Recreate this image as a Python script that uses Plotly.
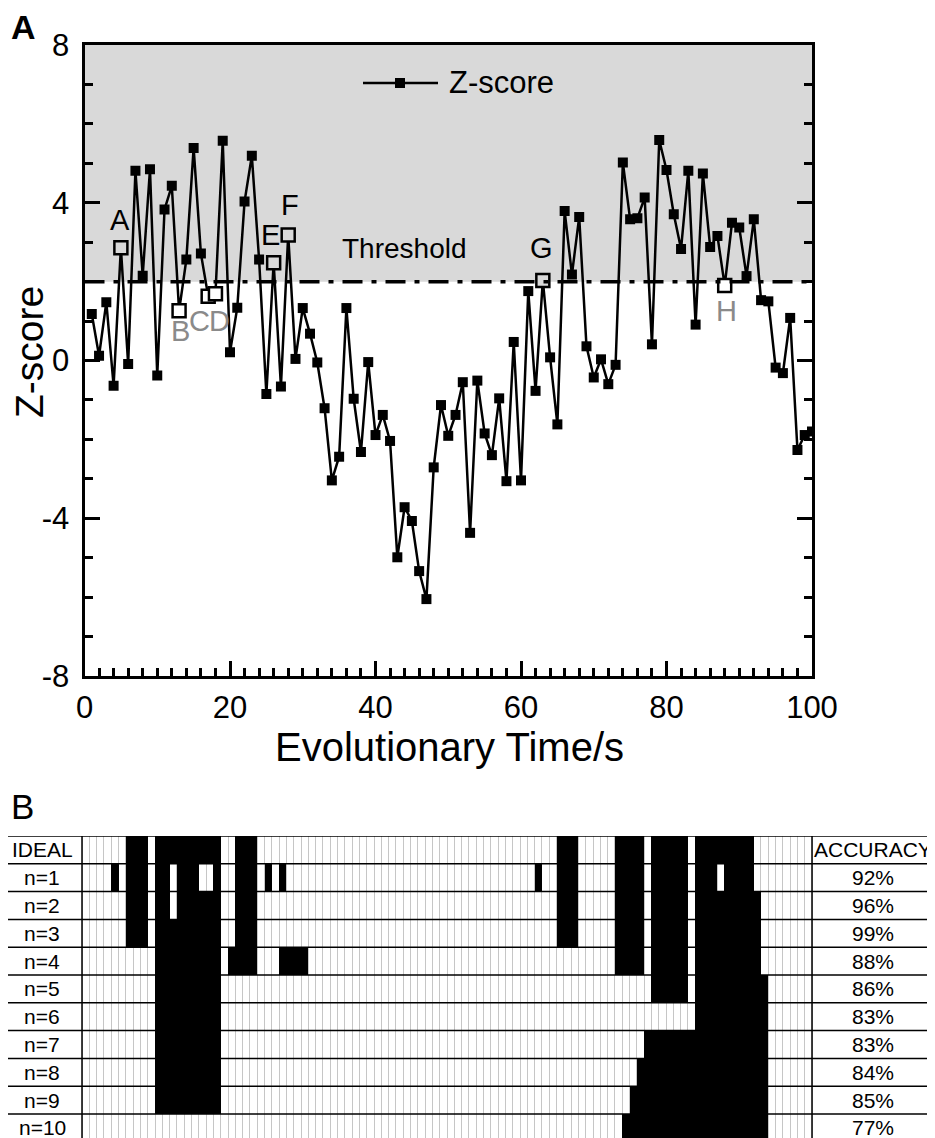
import plotly.graph_objects as go

# reference canvas and page offset (browser body margin)
W, H = 935, 1138
OFF = 8
FW, FH = W - OFF, H - OFF

# ---------------- data: panel A ----------------
TIME = list(range(1, 101))
ZSCORE = [
    1.18, 0.12, 1.48, -0.64, 2.86, -0.09, 4.81, 2.15, 4.85, -0.38,
    3.83, 4.43, 1.26, 2.56, 5.39, 2.71, 1.63, 1.69, 5.57, 0.21,
    1.34, 4.03, 5.19, 2.56, -0.85, 2.48, -0.66, 3.18, 0.04, 1.33,
    0.68, -0.05, -1.21, -3.04, -2.44, 1.33, -0.97, -2.32, -0.04, -1.89,
    -1.38, -2.04, -4.99, -3.72, -4.07, -5.34, -6.05, -2.71, -1.13, -1.91,
    -1.38, -0.55, -4.37, -0.51, -1.85, -2.40, -0.96, -3.06, 0.47, -3.04,
    1.76, -0.77, 2.03, 0.08, -1.62, 3.79, 2.18, 3.64, 0.36, -0.43,
    0.03, -0.60, -0.11, 5.02, 3.58, 3.61, 4.13, 0.41, 5.59, 4.83,
    3.71, 2.83, 4.81, 0.91, 4.74, 2.88, 3.16, 1.90, 3.49, 3.37,
    2.14, 3.58, 1.53, 1.50, -0.18, -0.32, 1.08, -2.27, -1.89, -1.80,
]
THRESHOLD = 2.0
X_RANGE = [0, 100]
Y_RANGE = [-8, 8]
X_TICKS = [0, 20, 40, 60, 80, 100]
Y_TICKS = [-8, -4, 0, 4, 8]
Y_TICKTEXT = ["-8", "-4", "0", "4", "8"]
HIGHLIGHT_T = [5, 13, 17, 18, 26, 28, 63, 88]
HIGHLIGHT_LABELS = ["A", "B", "C", "D", "E", "F", "G", "H"]

# ---------------- data: panel B ----------------
ROW_LABELS = ["IDEAL", "n=1", "n=2", "n=3", "n=4", "n=5",
              "n=6", "n=7", "n=8", "n=9", "n=10"]
ACCURACY = ["ACCURACY", "92%", "96%", "99%", "88%", "86%",
            "83%", "83%", "84%", "85%", "77%"]
IDEAL_RUNS = [(7, 9), (11, 19), (22, 24), (66, 68), (74, 77), (79, 83), (85, 92)]
N1_RUNS = [(5, 5), (7, 9), (11, 12), (14, 16), (19, 19), (22, 24), (26, 26),
           (28, 28), (63, 63), (66, 68), (74, 77), (79, 83), (85, 87), (89, 92)]
N2_RUNS = [(7, 9), (11, 12), (14, 19), (22, 24), (66, 68), (74, 77), (79, 83), (85, 93)]
N3_RUNS = [(7, 9), (11, 19), (22, 24), (66, 68), (74, 77), (79, 83), (85, 93)]
N4_RUNS = [(11, 19), (21, 24), (28, 31), (74, 77), (79, 83), (85, 93)]
N5_RUNS = [(11, 19), (79, 83), (85, 94)]
N6_RUNS = [(11, 19), (85, 94)]
N7_RUNS = [(11, 19), (78, 94)]
N8_RUNS = [(11, 19), (77, 94)]
N9_RUNS = [(11, 19), (76, 94)]
N10_RUNS = [(75, 94)]
ALL_RUNS = [IDEAL_RUNS, N1_RUNS, N2_RUNS, N3_RUNS, N4_RUNS, N5_RUNS,
            N6_RUNS, N7_RUNS, N8_RUNS, N9_RUNS, N10_RUNS]

# ---------------- style ----------------
FONT = "Arial, Liberation Sans, sans-serif"
BG_GRAY = "#d9d9d9"
LABEL_GRAY = "#8a8a8a"


def px_x(p):
    return (p - OFF) / FW


def px_y(p):
    return 1 - (p - OFF) / FH


fig = go.Figure()

# ---- panel A traces ----
fig.add_trace(go.Scatter(
    x=TIME, y=ZSCORE, mode="lines+markers", name="Z-score",
    line=dict(color="black", width=2.5),
    marker=dict(symbol="square", size=10, color="black"),
    xaxis="x", yaxis="y", showlegend=False, hoverinfo="skip",
))

hl_y = [ZSCORE[TIME.index(t)] for t in HIGHLIGHT_T]
hl_fill = [BG_GRAY if v >= THRESHOLD else "white" for v in hl_y]
fig.add_trace(go.Scatter(
    x=HIGHLIGHT_T, y=hl_y, mode="markers",
    marker=dict(symbol="square", size=13, color=hl_fill,
                line=dict(color="black", width=2.5)),
    xaxis="x", yaxis="y", showlegend=False, hoverinfo="skip",
))

# label offsets (pixels) relative to the highlighted point
LABEL_SHIFT = [(-1, 28), (1, -20), (-9, -25), (4, -27),
               (-3, 28), (2, 30), (-1, 32), (2, -25)]
annotations = []
for t, v, lab, (dx, dy) in zip(HIGHLIGHT_T, hl_y, HIGHLIGHT_LABELS, LABEL_SHIFT):
    annotations.append(dict(
        x=t, y=v, xref="x", yref="y", text=lab, showarrow=False,
        xanchor="center", yanchor="middle", xshift=dx, yshift=dy,
        font=dict(family=FONT, size=29,
                  color="black" if v >= THRESHOLD else LABEL_GRAY),
    ))

annotations.append(dict(
    x=35.1, y=2.85, xref="x", yref="y", text="Threshold", showarrow=False,
    xanchor="left", yanchor="middle",
    font=dict(family=FONT, size=28, color="black"),
))

# ---- panel B heatmap ----
matrix = []
for runs in ALL_RUNS:
    matrix.append([1 if any(a <= t <= b for a, b in runs) else 0 for t in TIME])

fig.add_trace(go.Heatmap(
    x=TIME, y=list(range(len(ROW_LABELS))), z=matrix,
    zmin=0, zmax=1,
    colorscale=[[0, "rgba(255,255,255,0)"], [1, "black"]],
    showscale=False, hoverinfo="skip",
    xaxis="x2", yaxis="y2",
))

# geometry of the table (units of time steps / rows)
CELL_PX = 7.3
ROW_PX = 27.8
GRID_LEFT_PX = 82
TABLE_TOP_PX = 836
x2_left = 0.5 - (GRID_LEFT_PX - OFF) / CELL_PX
x2_right = 0.5 + (W - GRID_LEFT_PX) / CELL_PX
LABEL_LEFT = 0.5 - (GRID_LEFT_PX - 2.7) / CELL_PX
ACC_RIGHT = 0.5 + (933 - GRID_LEFT_PX) / CELL_PX
GRID_RIGHT = len(TIME) + 0.5
y2_bottom = -0.5 + (H - TABLE_TOP_PX) / ROW_PX

shapes = []
# grey region above threshold
shapes.append(dict(type="rect", xref="x domain", yref="y", x0=0, x1=1,
                   y0=THRESHOLD, y1=Y_RANGE[1], fillcolor=BG_GRAY,
                   line=dict(width=0), layer="below"))
# threshold line
shapes.append(dict(type="line", xref="x domain", yref="y", x0=0, x1=1,
                   y0=THRESHOLD, y1=THRESHOLD,
                   line=dict(color="black", width=3.5, dash="20px,9px,5px,9px")))

# table horizontal lines
for r in range(len(ROW_LABELS) + 1):
    shapes.append(dict(type="line", xref="x2", yref="y2",
                       x0=LABEL_LEFT, x1=ACC_RIGHT, y0=r - 0.5, y1=r - 0.5,
                       line=dict(color="black", width=1.5)))
# table vertical black lines
for xv in [LABEL_LEFT, 0.5, GRID_RIGHT, ACC_RIGHT]:
    shapes.append(dict(type="line", xref="x2", yref="y2",
                       x0=xv, x1=xv, y0=-0.5, y1=len(ROW_LABELS) - 0.5,
                       line=dict(color="black", width=1.5)))

# table labels
for r, (lab, acc) in enumerate(zip(ROW_LABELS, ACCURACY)):
    annotations.append(dict(x=(LABEL_LEFT + 0.5) / 2, y=r, xref="x2", yref="y2",
                            text=lab, showarrow=False,
                            xanchor="center", yanchor="middle",
                            font=dict(family=FONT, size=21, color="black")))
    annotations.append(dict(x=(GRID_RIGHT + ACC_RIGHT) / 2, y=r, xref="x2", yref="y2",
                            text=acc, showarrow=False,
                            xanchor="center", yanchor="middle",
                            font=dict(family=FONT, size=21, color="black")))

# legend (drawn)
LEG_Y = px_y(83)
shapes.append(dict(type="line", xref="paper", yref="paper",
                   x0=px_x(363), x1=px_x(438), y0=LEG_Y, y1=LEG_Y,
                   line=dict(color="black", width=2.5)))
shapes.append(dict(type="rect", xref="paper", yref="paper",
                   x0=px_x(395), x1=px_x(405), y0=px_y(88), y1=px_y(78),
                   fillcolor="black", line=dict(width=0)))
annotations.append(dict(x=px_x(447), y=LEG_Y, xref="paper", yref="paper",
                        text="Z-score", showarrow=False,
                        xanchor="left", yanchor="middle",
                        font=dict(family=FONT, size=31, color="black")))

# panel letters and axis titles
annotations.append(dict(x=px_x(24), y=px_y(27), xref="paper", yref="paper",
                        text="<b>A</b>", showarrow=False, borderpad=0,
                        xanchor="center", yanchor="middle",
                        font=dict(family=FONT, size=34, color="black")))
annotations.append(dict(x=px_x(22), y=px_y(806), xref="paper", yref="paper",
                        text="B", showarrow=False,
                        xanchor="center", yanchor="middle",
                        font=dict(family=FONT, size=35, color="black")))
annotations.append(dict(x=px_x(449), y=px_y(747), xref="paper", yref="paper",
                        text="Evolutionary Time/s", showarrow=False,
                        xanchor="center", yanchor="middle",
                        font=dict(family=FONT, size=40, color="black")))
annotations.append(dict(x=px_x(30), y=px_y(352), xref="paper", yref="paper",
                        text="Z-score", showarrow=False, textangle=-90,
                        borderpad=0, xanchor="center", yanchor="middle",
                        font=dict(family=FONT, size=39, color="black")))

axis_common = dict(showline=True, linewidth=3, linecolor="black",
                   ticks="inside", ticklen=15, tickwidth=2.5, tickcolor="black",
                   showgrid=False, zeroline=False, automargin=False,
                   tickfont=dict(family=FONT, size=31, color="black"))

fig.update_layout(
    width=FW, height=FH,
    margin=dict(l=0, r=0, t=0, b=0),
    paper_bgcolor="white", plot_bgcolor="white",
    showlegend=False,
    xaxis=dict(domain=[px_x(84.5), px_x(812)], range=X_RANGE, anchor="y",
               tickvals=X_TICKS, mirror=True, ticklabelstandoff=2,
               minor=dict(dtick=2, tick0=0, ticklen=8, tickwidth=2.5,
                          tickcolor="black", ticks="inside"),
               **axis_common),
    yaxis=dict(domain=[px_y(676), px_y(45)], range=Y_RANGE, anchor="x",
               tickvals=Y_TICKS, ticktext=Y_TICKTEXT, mirror="allticks",
               ticklabelstandoff=6,
               minor=dict(dtick=1, tick0=0, ticklen=8, tickwidth=2.5,
                          tickcolor="black", ticks="inside"),
               **axis_common),
    xaxis2=dict(domain=[0, 1], range=[x2_left, x2_right], anchor="y2",
                showgrid=True, gridcolor="#c6c6c6", gridwidth=1,
                tickvals=[t + 0.5 for t in [0] + TIME],
                showticklabels=False, ticks="", zeroline=False,
                showline=False, automargin=False),
    yaxis2=dict(domain=[0, px_y(TABLE_TOP_PX)], range=[y2_bottom, -0.5],
                anchor="x2", showgrid=False, showticklabels=False,
                ticks="", zeroline=False, showline=False, automargin=False),
    shapes=shapes,
    annotations=annotations,
)

fig.write_html("out.html")
